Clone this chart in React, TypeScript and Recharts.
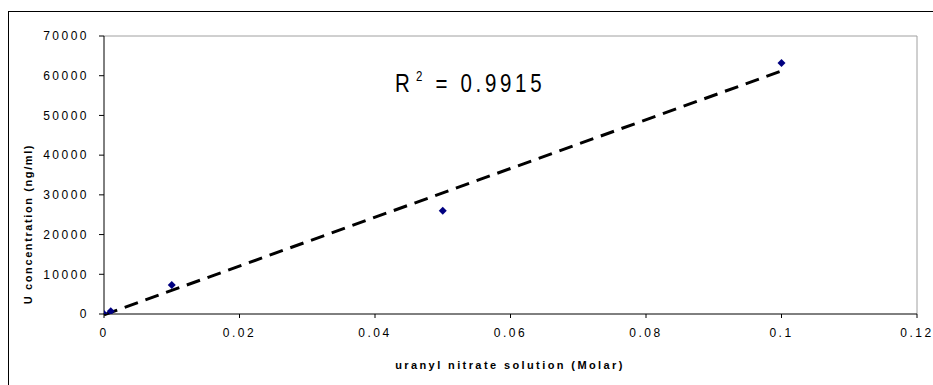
import React from 'react';
import {
    ScatterChart,
    Scatter,
    XAxis,
    YAxis,
    ReferenceLine,
} from 'recharts';

// measured points: molarity vs U concentration (ng/ml)
const molar = [0, 0.001, 0.01, 0.05, 0.1];
const conc = [0, 700, 7300, 26000, 63200];

// trendline ends
const trendX = [0, 0.1];
const trendY = [-200, 61200];

const xTicks = [0, 0.02, 0.04, 0.06, 0.08, 0.1, 0.12];
const yTicks = [0, 10000, 20000, 30000, 40000, 50000, 60000, 70000];

const rSquared = '0.9915';

const points = molar.map((x, i) => ({ x, y: conc[i] }));

const FONT = "'Liberation Sans', Arial, sans-serif";

const tickStyle = {
    fontFamily: FONT,
    fontSize: 12,
    fill: '#000',
    letterSpacing: 2.5,
};

const Diamond = (props: any) => {
    const { cx, cy } = props;
    const r = 4;
    return (
        <polygon
            points={`${cx},${cy - r} ${cx + r},${cy} ${cx},${cy + r} ${cx - r},${cy}`}
            fill="#000080"
        />
    );
};

const App = () => {
    return (
        <div style={{ position: 'absolute', left: 0, top: 0, width: 933, height: 385, overflow: 'hidden', background: '#fff' }}>
            <div
                style={{
                    position: 'absolute',
                    left: 8,
                    top: 11,
                    width: 1000,
                    height: 500,
                    border: '1px solid #000',
                    boxSizing: 'border-box',
                }}
            />
            <ScatterChart
                width={933}
                height={385}
                margin={{ top: 36, right: 16, bottom: 41, left: 44 }}
                style={{ position: 'absolute', left: 0, top: 0 }}
            >
                <XAxis
                    type="number"
                    dataKey="x"
                    domain={[0, 0.12]}
                    ticks={xTicks}
                    height={30}
                    stroke="#000"
                    tickSize={4}
                    tickMargin={10}
                    tick={tickStyle}
                    allowDataOverflow
                />
                <YAxis
                    type="number"
                    dataKey="y"
                    domain={[0, 70000]}
                    ticks={yTicks}
                    width={60}
                    stroke="#000"
                    tickSize={5}
                    tickMargin={10}
                    tick={tickStyle}
                    allowDataOverflow
                />
                <ReferenceLine y={70000} stroke="#a0a0a0" />
                <ReferenceLine x={0.12} stroke="#a0a0a0" />
                <ReferenceLine
                    segment={[
                        { x: trendX[0], y: trendY[0] },
                        { x: trendX[1], y: trendY[1] },
                    ]}
                    stroke="#000"
                    strokeWidth={3}
                    strokeDasharray="14 8"
                    ifOverflow="visible"
                />
                <Scatter data={points} shape={<Diamond />} isAnimationActive={false} />
            </ScatterChart>
            <svg width={933} height={385} style={{ position: 'absolute', left: 0, top: 0, pointerEvents: 'none' }}>
                <text
                    x={510}
                    y={369}
                    textAnchor="middle"
                    fontFamily={FONT}
                    fontSize={11}
                    fontWeight="bold"
                    letterSpacing={2.4}
                >
                    uranyl nitrate solution (Molar)
                </text>
                <text
                    x={32}
                    y={224}
                    textAnchor="middle"
                    transform="rotate(-90 32 224)"
                    fontFamily={FONT}
                    fontSize={11}
                    fontWeight="bold"
                    letterSpacing={1.6}
                >
                    U concentration (ng/ml)
                </text>
                <text
                    x={395}
                    y={92}
                    fontFamily={FONT}
                    fontSize={25}
                    letterSpacing={4.5}
                    transform="translate(395 0) scale(0.82 1) translate(-395 0)"
                >
                    R
                    <tspan fontSize={14} dx={3} dy={-11}>2</tspan>
                    <tspan dy={11}> = {rSquared}</tspan>
                </text>
            </svg>
        </div>
    );
};

export default App;
